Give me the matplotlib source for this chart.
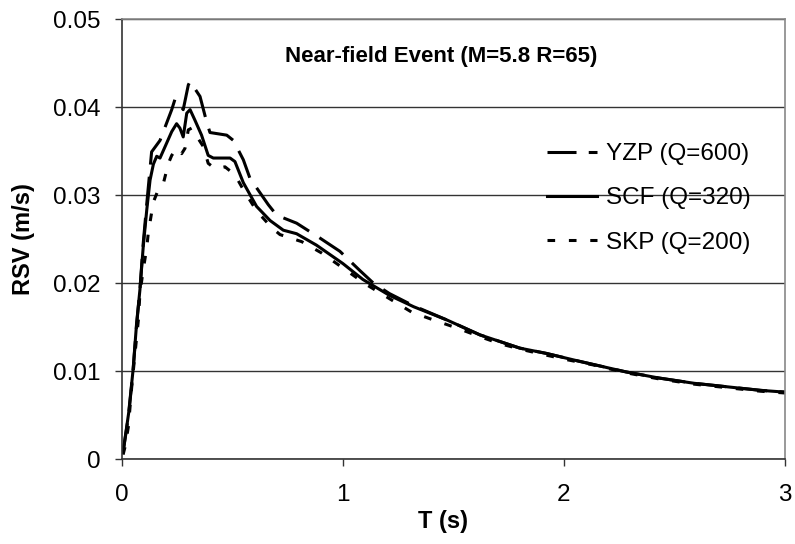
import matplotlib
matplotlib.use("Agg")
import matplotlib.pyplot as plt

plt.rcParams['font.family'] = ['Liberation Sans', 'DejaVu Sans']

# response spectra read per site (period T in s, RSV in m/s)
t_yzp = [0.005, 0.03, 0.05, 0.066, 0.081, 0.096, 0.112, 0.134, 0.172, 0.225, 0.24, 0.255,
         0.277, 0.30, 0.308, 0.353, 0.383, 0.398, 0.474, 0.504, 0.549, 0.579, 0.662, 0.70,
         0.79, 0.896, 0.986, 1.077, 1.137, 1.21, 1.32, 1.47, 1.62, 1.80, 1.92, 2.07, 2.28,
         2.43, 2.59, 2.74, 2.89, 3.0]
v_yzp = [0.0008, 0.005, 0.0100, 0.0152, 0.0192, 0.0245, 0.029, 0.0349, 0.0362, 0.0397, 0.0409, 0.0406,
         0.0397, 0.0425, 0.0429, 0.0412, 0.0383, 0.0371, 0.0368, 0.0362, 0.0340, 0.0319, 0.0289, 0.0277,
         0.0268, 0.0251, 0.0236, 0.0214, 0.0200, 0.0188, 0.0174, 0.0158, 0.0141, 0.0126, 0.0120, 0.0111, 0.0099,
         0.0092, 0.0086, 0.0082, 0.0078, 0.0076]

t_scf = [0.005, 0.03, 0.05, 0.066, 0.081, 0.096, 0.112, 0.127, 0.142, 0.157, 0.172, 0.195,
         0.225, 0.247, 0.262, 0.277, 0.293, 0.308, 0.33, 0.36, 0.39, 0.413, 0.45, 0.489,
         0.511, 0.549, 0.609, 0.67, 0.73, 0.79, 0.88, 1.0, 1.09, 1.21, 1.32, 1.47, 1.62,
         1.80, 1.92, 2.07, 2.28, 2.43, 2.59, 2.74, 2.89, 3.0]
v_scf = [0.0008, 0.0052, 0.0101, 0.0154, 0.0192, 0.0241, 0.0283, 0.0317, 0.0335, 0.0344, 0.0342, 0.0355,
         0.0372, 0.0381, 0.0376, 0.0366, 0.0393, 0.0397, 0.0385, 0.0368, 0.0345, 0.0342, 0.0342, 0.0342,
         0.0338, 0.0314, 0.0287, 0.0271, 0.0260, 0.0256, 0.0243, 0.0222, 0.0204, 0.0186, 0.0173, 0.0158, 0.0141,
         0.0126, 0.0120, 0.0111, 0.0099, 0.0092, 0.0086, 0.0082, 0.0078, 0.0076]

t_skp = [0.005, 0.014, 0.029, 0.044, 0.059, 0.074, 0.081, 0.096, 0.112, 0.119, 0.134, 0.142,
         0.164, 0.187, 0.21, 0.225, 0.247, 0.27, 0.285, 0.30, 0.315, 0.345, 0.368, 0.39,
         0.421, 0.466, 0.511, 0.549, 0.609, 0.677, 0.715, 0.813, 0.904, 1.0, 1.107, 1.205,
         1.31, 1.409, 1.514, 1.62, 1.71, 1.816, 1.92, 2.01, 2.13, 2.28, 2.43, 2.59, 2.74,
         2.89, 3.0]
v_skp = [0.0005, 0.0014, 0.0037, 0.0082, 0.0120, 0.0158, 0.0188, 0.0215, 0.0240, 0.0257, 0.0280, 0.0292,
         0.0306, 0.0313, 0.0336, 0.0345, 0.0353, 0.0347, 0.0353, 0.0374, 0.0376, 0.0364, 0.0355, 0.0336,
         0.0330, 0.0332, 0.0323, 0.0306, 0.0282, 0.0263, 0.0255, 0.0247, 0.0234, 0.0217, 0.0198, 0.0183,
         0.0167, 0.0158, 0.0149, 0.0139, 0.0131, 0.0124, 0.0118, 0.0113, 0.0107, 0.0098, 0.0091, 0.0085, 0.0081,
         0.0077, 0.0075]

labels = ["YZP (Q=600)", "SCF (Q=320)", "SKP (Q=200)"]
x_ticks = [0, 1, 2, 3]
y_ticks = [0, 0.01, 0.02, 0.03, 0.04, 0.05]

fig = plt.figure(figsize=(7.95, 5.44), dpi=100)
ax = fig.add_axes([122 / 795, 85 / 544, 663 / 795, 440 / 544])

lw = 2.2
ax.plot(t_yzp, v_yzp, color="black", lw=lw, dashes=(9.5, 4), label=labels[0])
ax.plot(t_scf, v_scf, color="black", lw=lw, label=labels[1])
ax.plot(t_skp, v_skp, color="black", lw=lw, dashes=(2.5, 4.5), label=labels[2])

ax.set_xlim(0, 3)
ax.set_ylim(0, 0.05)
ax.set_xticks(x_ticks)
ax.set_xticklabels([str(x) for x in x_ticks])
ax.set_yticks(y_ticks)
ax.set_yticklabels(["0", "0.01", "0.02", "0.03", "0.04", "0.05"])
ax.tick_params(labelsize=17.5, direction="out", length=5, width=1, colors="#333333",
               labelcolor="black")
ax.tick_params(axis="y", pad=10.5)
ax.tick_params(axis="x", pad=13)

ax.yaxis.grid(True, color="#333333", lw=1)
ax.set_axisbelow(True)
for side in ["left", "bottom"]:
    ax.spines[side].set_color("#333333")
    ax.spines[side].set_linewidth(1.2)
for side in ["top", "right"]:
    ax.spines[side].set_color("#888888")
    ax.spines[side].set_linewidth(1.2)

ax.set_xlabel("T (s)", fontsize=17, fontweight="bold")
ax.xaxis.set_label_coords(0.484, -51 / 440, transform=ax.transAxes)
ax.set_ylabel("RSV (m/s)", fontsize=17, fontweight="bold")
ax.yaxis.set_label_coords(-87 / 663, 0.5, transform=ax.transAxes)

ax.text(0.481, 0.914, "Near-field Event (M=5.8 R=65)", transform=ax.transAxes,
        ha="center", va="center", fontsize=16, fontweight="bold")

ax.legend(loc="upper left", bbox_to_anchor=(0.641, 0.718), frameon=False,
          fontsize=17.5, handlelength=2.06, handletextpad=0.37, labelspacing=0.92,
          borderpad=0, borderaxespad=0)

fig.savefig("out.png", dpi=100)
